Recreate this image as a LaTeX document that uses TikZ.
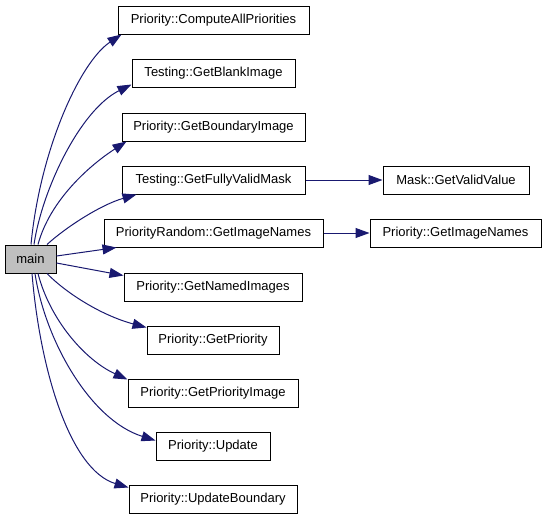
\documentclass[tikz,border=0pt]{standalone}
\usepackage{fontspec}
\setmainfont{Liberation Sans}
\usetikzlibrary{arrows.meta,calc}
\definecolor{edgeblue}{HTML}{191970}
\definecolor{maingray}{HTML}{BFBFBF}
\begin{document}
\begin{tikzpicture}[x=1pt,y=-1pt,
  box/.style={draw=black,line width=1pt,fill=white,inner sep=0pt,minimum height=28pt,font=\fontsize{13}{15}\selectfont},
  call/.style={draw=edgeblue,line width=1pt,-{Triangle[length=14pt,width=10pt]}}]
\useasboundingbox (0,0) rectangle (547,520);
\node[box,fill=maingray,minimum width=51pt] (main) at (30.5,259) {main};
\node[box,minimum width=191pt] (compute) at (213.5,20) {Priority::ComputeAllPriorities};
\node[box,minimum width=163pt] (blank) at (213.5,73) {Testing::GetBlankImage};
\node[box,minimum width=183pt] (boundary) at (213.5,127) {Priority::GetBoundaryImage};
\node[box,minimum width=183pt] (fvm) at (213.5,180) {Testing::GetFullyValidMask};
\node[box,minimum width=219pt] (prand) at (213.5,233) {PriorityRandom::GetImageNames};
\node[box,minimum width=178pt] (named) at (213,287) {Priority::GetNamedImages};
\node[box,minimum width=132pt] (getpri) at (213,340) {Priority::GetPriority};
\node[box,minimum width=170pt] (priimg) at (213,393) {Priority::GetPriorityImage};
\node[box,minimum width=114pt] (update) at (213,446) {Priority::Update};
\node[box,minimum width=168pt] (updb) at (213,499) {Priority::UpdateBoundary};
\node[box,minimum width=146pt] (gvv) at (456,180) {Mask::GetValidValue};
\node[box,minimum width=171pt] (pgin) at (455.5,233) {Priority::GetImageNames};

\draw[call] ($(main.north)+(0.5,0)$) .. controls (40,150) and (80,62) .. ($(compute.south west)+(4,0)$);
\draw[call] ($(main.north)+(3.5,0)$) .. controls (42,190) and (80,110) .. ($(blank.south west)+(0,-3)$);
\draw[call] ($(main.north)+(7.5,0)$) .. controls (50,200) and (90,165) .. ($(boundary.south west)+(5,0)$);
\draw[call] ($(main.north)+(16.5,0)$) .. controls (65,228) and (100,205) .. ($(fvm.south west)+(15,0)$);
\draw[call] ($(main.east)+(0,-3)$) -- ($(prand.south west)+(13,0)$);
\draw[call] ($(main.east)+(0,4)$) -- ($(named.north west)+(0,3)$);
\draw[call] ($(main.south)+(16.5,0)$) .. controls (65,292) and (100,315) .. ($(getpri.north west)+(0,2)$);
\draw[call] ($(main.south)+(7.5,0)$) .. controls (50,320) and (85,360) .. ($(priimg.north west)+(0,1)$);
\draw[call] ($(main.south)+(4.5,0)$) .. controls (45,340) and (90,420) .. ($(update.north west)+(0,9)$);
\draw[call] ($(main.south)+(1.5,0)$) .. controls (40,370) and (70,470) .. ($(updb.north west)+(0,3)$);
\draw[call] (fvm.east) -- (gvv.west);
\draw[call] (prand.east) -- (pgin.west);
\end{tikzpicture}
\end{document}
